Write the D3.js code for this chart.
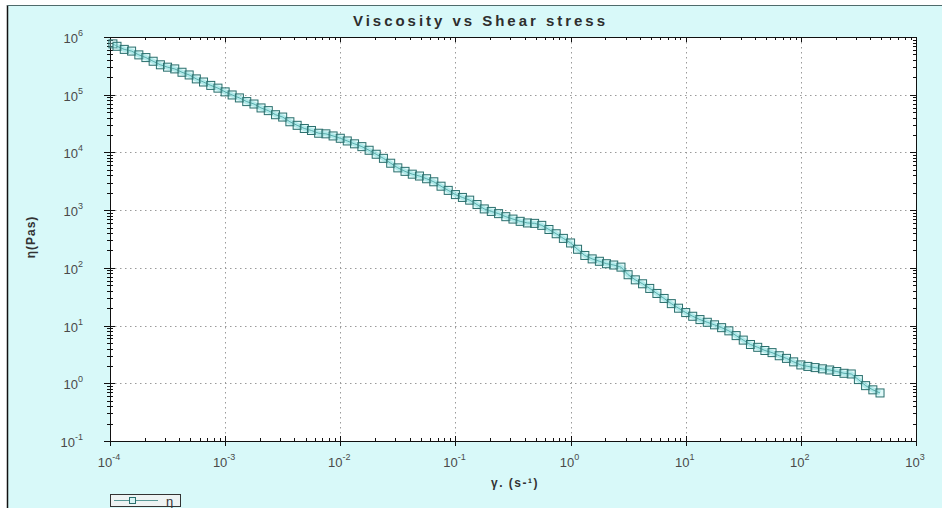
<!DOCTYPE html>
<html>
<head>
<meta charset="utf-8">
<script src="https://cdn.jsdelivr.net/npm/d3@7"></script>
<style>
  body { margin: 0; background: #ffffff; }
  svg { display: block; }
  text { font-family: Arial, "Liberation Sans", sans-serif; }
</style>
</head>
<body>
<svg id="chart" width="942" height="508"></svg>
<script>
// Flow curve: shear rate (1/s) and viscosity (Pa·s)
const shearRate = [
  1.06e-4, 1.15e-4, 1.33e-4, 1.54e-4, 1.78e-4, 2.05e-4, 2.37e-4, 2.74e-4, 3.16e-4, 3.65e-4, 4.22e-4, 4.87e-4, 5.62e-4, 6.49e-4, 7.50e-4, 8.66e-4,
  1.00e-3, 1.15e-3, 1.33e-3, 1.54e-3, 1.78e-3, 2.05e-3, 2.37e-3, 2.74e-3, 3.16e-3, 3.65e-3, 4.22e-3, 4.87e-3, 5.62e-3, 6.49e-3, 7.50e-3, 8.66e-3,
  1.00e-2, 1.15e-2, 1.33e-2, 1.54e-2, 1.78e-2, 2.05e-2, 2.37e-2, 2.74e-2, 3.16e-2, 3.65e-2, 4.22e-2, 4.87e-2, 5.62e-2, 6.49e-2, 7.50e-2, 8.66e-2,
  1.00e-1, 1.15e-1, 1.33e-1, 1.54e-1, 1.78e-1, 2.05e-1, 2.37e-1, 2.74e-1, 3.16e-1, 3.65e-1, 4.22e-1, 4.87e-1, 5.62e-1, 6.49e-1, 7.50e-1, 8.66e-1,
  1.00, 1.15, 1.33, 1.54, 1.78, 2.05, 2.37, 2.74, 3.16, 3.65, 4.22, 4.87, 5.62, 6.49, 7.50, 8.66,
  10.0, 11.5, 13.3, 15.4, 17.8, 20.5, 23.7, 27.4, 31.6, 36.5, 42.2, 48.7, 56.2, 64.9, 75.0, 86.6,
  100, 115, 133, 154, 178, 205, 237, 274, 316, 365, 422, 487
];
const viscosity = [
  7.6e5, 6.9e5, 6.1e5, 5.7e5, 4.9e5, 4.4e5, 3.8e5, 3.3e5, 3.0e5, 2.8e5, 2.45e5, 2.2e5, 1.88e5, 1.66e5, 1.45e5, 1.3e5,
  1.12e5, 9.9e4, 8.8e4, 7.6e4, 6.9e4, 5.9e4, 5.3e4, 4.5e4, 4.1e4, 3.4e4, 2.95e4, 2.6e4, 2.4e4, 2.15e4, 2.1e4, 1.93e4,
  1.76e4, 1.58e4, 1.41e4, 1.26e4, 1.09e4, 9.3e3, 7.9e3, 6.5e3, 5.4e3, 4.7e3, 4.2e3, 3.9e3, 3.5e3, 3.1e3, 2.6e3, 2.2e3,
  1.86e3, 1.66e3, 1.49e3, 1.25e3, 1.05e3, 950, 870, 770, 700, 640, 600, 590, 545, 462, 390, 324,
  270, 210, 164, 143, 130, 118, 112, 103, 76, 62, 53, 44, 36, 29.5, 24, 20,
  16.8, 14.5, 12.7, 11.4, 10.3, 9.2, 8.1, 6.7, 5.6, 4.7, 4.2, 3.7, 3.4, 3.0, 2.7, 2.35,
  2.08, 1.96, 1.87, 1.78, 1.70, 1.60, 1.49, 1.45, 1.16, 0.91, 0.77, 0.68
];
// Decade tick exponents
const xExponents = [-4, -3, -2, -1, 0, 1, 2, 3];
const yExponents = [-1, 0, 1, 2, 3, 4, 5, 6];
const chartTitle = "Viscosity vs Shear stress";
const xTitle = "γ. (s-¹)";
const yTitle = "η(Pas)";
const seriesName = "η";

const svg = d3.select("#chart");
const plot = { left: 110, right: 916, top: 37, bottom: 441 };

const x = d3.scaleLog().domain([1e-4, 1e3]).range([plot.left, plot.right]);
const y = d3.scaleLog().domain([1e-1, 1e6]).range([plot.bottom, plot.top]);

// Panel background and frame edges
svg.append("rect").attr("x", 7).attr("y", 5).attr("width", 935).attr("height", 503)
  .attr("fill", "#d8f9f9");
svg.append("line").attr("x1", 7.5).attr("x2", 7.5).attr("y1", 5).attr("y2", 508)
  .attr("stroke", "#111").attr("stroke-width", 1.5);
svg.append("line").attr("x1", 7).attr("x2", 942).attr("y1", 5.5).attr("y2", 5.5)
  .attr("stroke", "#4f6b6b").attr("stroke-width", 1.2);

// Plot area
svg.append("rect").attr("x", plot.left).attr("y", plot.top)
  .attr("width", plot.right - plot.left).attr("height", plot.bottom - plot.top)
  .attr("fill", "#ffffff");

// Dotted decade grid
const grid = svg.append("g").attr("stroke", "#9a9a9a").attr("stroke-width", 1)
  .attr("stroke-dasharray", "1.5,3.5");
xExponents.slice(1, -1).forEach(e => {
  const px = Math.round(x(Math.pow(10, e))) + 0.5;
  grid.append("line").attr("x1", px).attr("x2", px).attr("y1", plot.top).attr("y2", plot.bottom);
});
yExponents.slice(1, -1).forEach(e => {
  const py = Math.round(y(Math.pow(10, e))) + 0.5;
  grid.append("line").attr("x1", plot.left).attr("x2", plot.right).attr("y1", py).attr("y2", py);
});

// Frame
svg.append("rect").attr("x", plot.left + 0.5).attr("y", plot.top + 0.5)
  .attr("width", plot.right - plot.left).attr("height", plot.bottom - plot.top)
  .attr("fill", "none").attr("stroke", "#111").attr("stroke-width", 1);

// Major and minor ticks on all four sides
const isMajor = v => Math.abs(Math.log10(v) - Math.round(Math.log10(v))) < 1e-9;
const ticks = svg.append("g").attr("stroke", "#111").attr("stroke-width", 1);
x.ticks().forEach(v => {
  const px = Math.round(x(v)) + 0.5;
  const m = isMajor(v);
  ticks.append("line").attr("x1", px).attr("x2", px)
    .attr("y1", plot.bottom - (m ? 5 : 3)).attr("y2", plot.bottom + (m ? 5 : 1));
  ticks.append("line").attr("x1", px).attr("x2", px)
    .attr("y1", plot.top).attr("y2", plot.top + (m ? 5 : 3));
});
y.ticks().forEach(v => {
  const py = Math.round(y(v)) + 0.5;
  const m = isMajor(v);
  ticks.append("line").attr("y1", py).attr("y2", py)
    .attr("x1", plot.left - (m ? 6 : 3)).attr("x2", plot.left + (m ? 5 : 3));
  ticks.append("line").attr("y1", py).attr("y2", py)
    .attr("x1", plot.right - (m ? 6 : 3)).attr("x2", plot.right);
});

// Tick labels (powers of ten)
const labelColor = "#4a4a4a";
xExponents.forEach(e => {
  const t = svg.append("text").attr("x", x(Math.pow(10, e)) - 1).attr("y", 467)
    .attr("text-anchor", "middle").attr("font-size", 13).attr("fill", labelColor);
  t.append("tspan").text("10");
  t.append("tspan").attr("dy", -7).attr("font-size", 9).text(String(e));
});
yExponents.forEach(e => {
  const t = svg.append("text").attr("x", 83).attr("y", y(Math.pow(10, e)) + 6)
    .attr("text-anchor", "end").attr("font-size", 13).attr("fill", labelColor);
  t.append("tspan").text("10");
  t.append("tspan").attr("dy", -7).attr("font-size", 9).text(String(e));
});

// Titles
svg.append("text").attr("x", 479).attr("y", 26).attr("text-anchor", "middle")
  .attr("font-size", 15).attr("font-weight", "bold").attr("fill", "#2e2e2e")
  .attr("textLength", 252).attr("lengthAdjust", "spacing").text(chartTitle);
svg.append("text").attr("x", 515).attr("y", 487).attr("text-anchor", "middle")
  .attr("font-size", 12).attr("font-weight", "bold").attr("fill", "#333")
  .attr("letter-spacing", 1.5).text(xTitle);
svg.append("text").attr("transform", "translate(35,237) rotate(-90)")
  .attr("text-anchor", "middle").attr("font-size", 12).attr("font-weight", "bold")
  .attr("letter-spacing", 1).attr("fill", "#333").text(yTitle);

// Series: connecting line with hollow square markers
const points = shearRate.map((s, i) => [s, viscosity[i]]);
const line = d3.line().x(d => x(d[0])).y(d => y(d[1]));
svg.append("path").attr("d", line(points)).attr("fill", "none")
  .attr("stroke", "#6cd3d3").attr("stroke-width", 5).attr("stroke-opacity", 0.5);
svg.append("path").attr("d", line(points)).attr("fill", "none")
  .attr("stroke", "#2f8a88").attr("stroke-width", 1);
const ms = 8;
svg.append("g").selectAll("rect").data(points).join("rect")
  .attr("x", d => x(d[0]) - ms / 2).attr("y", d => y(d[1]) - ms / 2)
  .attr("width", ms).attr("height", ms)
  .attr("fill", "#a8eded").attr("fill-opacity", 0.35)
  .attr("stroke", "#2a6f6d").attr("stroke-width", 1);

// Legend
const lg = svg.append("g");
lg.append("rect").attr("x", 110.5).attr("y", 494.5).attr("width", 70).attr("height", 12)
  .attr("fill", "#eef3f3").attr("stroke", "#333").attr("stroke-width", 1);
lg.append("line").attr("x1", 114).attr("x2", 158).attr("y1", 500.5).attr("y2", 500.5)
  .attr("stroke", "#5a9a98").attr("stroke-width", 1.2);
lg.append("rect").attr("x", 129.5).attr("y", 497.5).attr("width", 6).attr("height", 6)
  .attr("fill", "#d8f4f4").attr("stroke", "#2a6f6d").attr("stroke-width", 1);
lg.append("text").attr("x", 166).attr("y", 506).attr("font-size", 13).attr("fill", "#333")
  .text(seriesName);
</script>
</body>
</html>
